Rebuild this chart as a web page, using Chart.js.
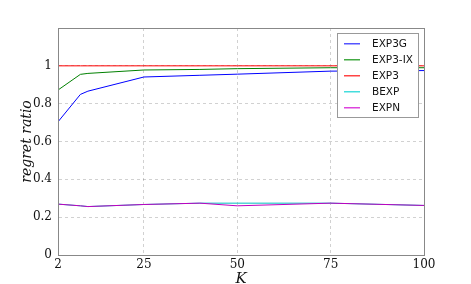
<!DOCTYPE html>
<html>
<head>
<meta charset="utf-8">
<script src="https://cdn.jsdelivr.net/npm/chart.js@4/dist/chart.umd.min.js"></script>
<style>
  html, body { margin: 0; padding: 0; background: #fff; }
  #wrap { width: 471px; height: 284px; }
</style>
</head>
<body>
<div id="wrap"><canvas id="c" width="471" height="284"></canvas></div>
<script>
// valores
const K = [2, 8, 10, 25, 40, 50, 75, 100];
const exp3g  = [0.704, 0.849, 0.866, 0.941, 0.950, 0.956, 0.972, 0.975];
const exp3ix = [0.872, 0.955, 0.960, 0.978, 0.981, 0.985, 0.990, 0.990];
const exp3   = [1.0, 1.0, 1.0, 1.0, 1.0, 1.0, 1.0, 1.0];
const bexp   = [0.269, 0.260, 0.256, 0.267, 0.274, 0.274, 0.274, 0.262];
const expn   = [0.269, 0.260, 0.256, 0.267, 0.274, 0.260, 0.274, 0.262];
const nombres = ['EXP3G', 'EXP3-IX', 'EXP3', 'BEXP', 'EXPN'];
const colores = ['#0000ff', '#008000', '#ff0000', '#00bfbf', '#bf00bf'];
const clarosLeyenda = ['#5555ff', '#44aa44', '#ff4444', '#44dddd', '#dd44dd'];
const xTicks = [2, 25, 50, 75, 100];
const yTicks = [0, 0.2, 0.4, 0.6, 0.8, 1];

// en Chart.js el orden menor queda arriba: la última serie se dibuja encima
const serie = (i, ys) => ({
  label: nombres[i], data: K.map((k, j) => ({ x: k, y: ys[j] })),
  borderColor: colores[i], backgroundColor: colores[i], order: 4 - i,
  borderWidth: 1, pointRadius: 0, tension: 0, fill: false,
});

/* marco completo del área y leyenda con borde, como en matplotlib */
const marco = {
  id: 'marco',
  afterDatasetsDraw(chart) {
    const { ctx, chartArea: a } = chart;
    ctx.save();
    ctx.strokeStyle = '#888';
    ctx.lineWidth = 1;
    ctx.setLineDash([]);
    ctx.strokeRect(Math.round(a.left) + 0.5, Math.round(a.top) + 0.5,
      Math.round(a.right - a.left), Math.round(a.bottom - a.top));
    ctx.restore();
  },
  afterDraw(chart) {
    const { ctx } = chart;
    const x0 = 337, y0 = 33, w = 81, h = 84;
    ctx.save();
    ctx.setLineDash([]);
    ctx.globalAlpha = 1;
    ctx.fillStyle = '#fff';
    ctx.fillRect(x0, y0, w, h);
    ctx.strokeStyle = '#999';
    ctx.lineWidth = 1;
    ctx.strokeRect(x0 + 0.5, y0 + 0.5, w, h);
    ctx.font = '10.5px "DejaVu Sans"';
    ctx.textBaseline = 'middle';
    nombres.forEach((n, i) => {
      const y = y0 + 10 + i * 16;
      ctx.fillStyle = clarosLeyenda[i];
      ctx.fillRect(344, y, 16, 1.5);
      ctx.fillStyle = '#111';
      ctx.fillText(n, 372, y + 1);
    });
    ctx.restore();
  }
};

const serif = '"DejaVu Serif", "Liberation Serif", serif';

new Chart(document.getElementById('c'), {
  type: 'line',
  data: {
    datasets: [
      serie(0, exp3g), serie(1, exp3ix), serie(2, exp3), serie(3, bexp), serie(4, expn),
    ],
  },
  options: {
    responsive: false,
    animation: false,
    devicePixelRatio: 1,
    layout: { padding: { left: 0, right: 47, top: 28, bottom: 0 } },
    plugins: { legend: { display: false }, tooltip: { enabled: false } },
    scales: {
      x: {
        type: 'linear', min: 2, max: 100,
        afterBuildTicks: s => { s.ticks = xTicks.map(v => ({ value: v })); },
        afterFit: s => { s.height = 29; },
        grid: { color: 'rgba(0,0,0,0.18)', drawTicks: false },
        border: { color: '#888', dash: [3, 3] },
        ticks: { color: '#111', padding: 3, font: { family: serif, size: 12 }, maxRotation: 0 },
        title: { display: true, text: 'K', color: '#111', padding: { top: 0, bottom: -4 },
          font: { family: serif, size: 15, style: 'italic' } },
      },
      y: {
        type: 'linear', min: 0, max: 1.2,
        afterBuildTicks: s => { s.ticks = yTicks.map(v => ({ value: v })); },
        afterFit: s => { s.width = 58; },
        grid: { color: 'rgba(0,0,0,0.18)', drawTicks: false },
        border: { color: '#888', dash: [3, 3] },
        ticks: { color: '#111', padding: 6, font: { family: serif, size: 12 },
          callback: v => String(v) },
        title: { display: true, text: 'regret ratio', color: '#111', padding: { top: 19, bottom: 0 },
          font: { family: serif, size: 14, style: 'italic' } },
      },
    },
  },
  plugins: [marco],
});
</script>
</body>
</html>
